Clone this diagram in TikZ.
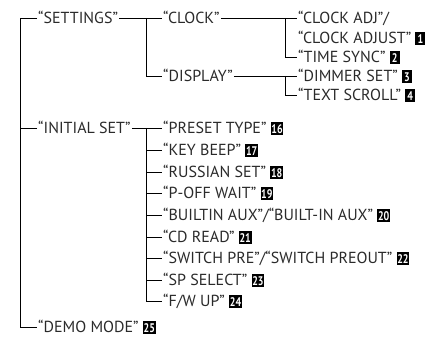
\documentclass[tikz,border=0pt]{standalone}
\usepackage{fontspec}
\usepackage{graphicx}
\setmainfont{PT Sans}
\definecolor{txt}{HTML}{2A2A2A}
\newsavebox\badgebox
\newcommand\mybadge[1]{{\sbox\badgebox{\color{white}\fontsize{12.5}{12.5}\selectfont\bfseries\scalebox{0.8}[1]{#1}}%
  \ifdim\wd\badgebox<8.4pt\sbox\badgebox{\makebox[8.4pt][c]{\usebox\badgebox}}\fi
  \setlength{\fboxsep}{0.7pt}\colorbox{black}{\rule[-0.6pt]{0pt}{11.4pt}\usebox\badgebox}}}
\begin{document}
\begin{tikzpicture}[x=1pt,y=1pt,
  item/.style={anchor=west,inner xsep=1pt,inner ysep=0pt,text height=11.2pt,text depth=0pt,
    font=\fontsize{16}{16}\selectfont,text=txt},
  conn/.style={draw=black,line width=0.75pt}]
\useasboundingbox (0,0) rectangle (440,345);
% level 1
\node[item] (settings) at (37,327) {“SETTINGS”};
\node[item] (initial)  at (37,217) {“INITIAL SET”};
\node[item] (demo)     at (37,18)  {“DEMO MODE” \mybadge{25}};
% level 2
\node[item] (clock)   at (162,327) {“CLOCK”};
\node[item] (display) at (162,269) {“DISPLAY”};
\node[item] (preset)  at (162,217) {“PRESET TYPE” \mybadge{16}};
\node[item] (beep)    at (162,195) {“KEY BEEP” \mybadge{17}};
\node[item] (russian) at (162,173) {“RUSSIAN SET” \mybadge{18}};
\node[item] (poff)    at (162,152) {“P-OFF WAIT” \mybadge{19}};
\node[item] (aux)     at (162,130) {“BUILTIN AUX”/“BUILT-IN AUX” \mybadge{20}};
\node[item] (cdread)  at (162,108) {“CD READ” \mybadge{21}};
\node[item] (switch)  at (162,87)  {“SWITCH PRE”/“SWITCH PREOUT” \mybadge{22}};
\node[item] (spsel)   at (162,65)  {“SP SELECT” \mybadge{23}};
\node[item] (fwup)    at (162,44)  {“F/W UP” \mybadge{24}};
% level 3
\node[item] (cadj)    at (297,327) {“CLOCK ADJ”/};
\node[item] (cadj2)   at (297,307) {“CLOCK ADJUST” \mybadge{1}};
\node[item] (tsync)   at (297,288) {“TIME SYNC” \mybadge{2}};
\node[item] (dimmer)  at (297,269) {“DIMMER SET” \mybadge{3}};
\node[item] (scroll)  at (297,250) {“TEXT SCROLL” \mybadge{4}};
% junction columns
\coordinate (c0) at (20,0);
\coordinate (c1) at (146,0);
\coordinate (c2) at (285,0);
% connectors
\draw[conn] (settings.west) -- (settings.west -| c0) |- (demo.west);
\draw[conn] (initial.west) -- (initial.west -| c0);
\draw[conn] (settings.east) -- (clock.west);
\draw[conn] (settings.east -| c1) |- (display.west);
\draw[conn] (clock.east) -- (cadj.west);
\draw[conn] (clock.east -| c2) |- (tsync.west);
\draw[conn] (display.east) -- (dimmer.west);
\draw[conn] (display.east -| c2) |- (scroll.west);
\draw[conn] (initial.east) -- (preset.west);
\draw[conn] (initial.east -| c1) |- (fwup.west);
\foreach \n in {beep,russian,poff,aux,cdread,switch,spsel}
  \draw[conn] (\n.west -| c1) -- (\n.west);
\end{tikzpicture}
\end{document}
